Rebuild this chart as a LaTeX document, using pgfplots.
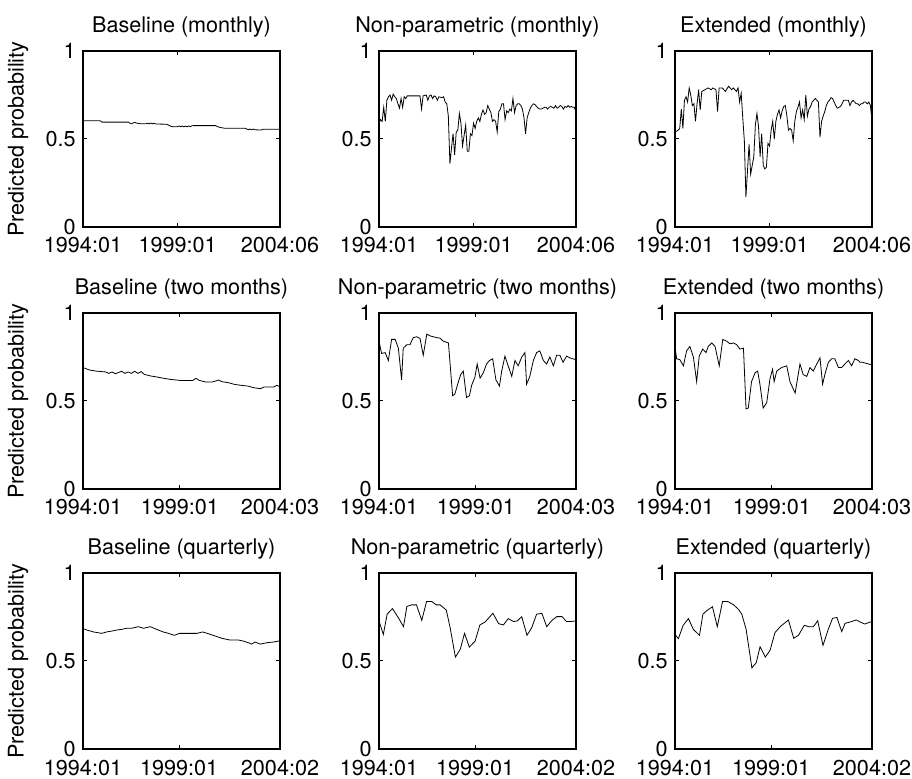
\documentclass[border=0pt]{standalone}
\usepackage{fontspec}
\setmainfont{TeX Gyre Heros}
\usepackage{pgfplots}
\pgfplotsset{compat=1.18}
\pgfplotsset{
  panel/.style={
    scale only axis, width=98.5pt, height=88pt,
    ymin=0, ymax=1, ytick={0,0.5,1}, yticklabels={0,0.5,1},
    xmin=0,
    tick align=inside, xtick pos=both, ytick pos=both,
    major tick length=2pt,
    axis line style={line width=0.6pt, black},
    every tick/.style={black, line width=0.5pt},
    tick label style={font=\fontsize{10.8}{12}\selectfont, inner sep=1pt},
    xticklabel style={anchor=base, yshift=-13pt},
    yticklabel style={anchor=east, xshift=-2.5pt},
    every axis title/.style={at={(0.5,1)}, anchor=base, yshift=9pt, font=\fontsize{10.8}{12}\selectfont},
    cycle list={{black, line width=0.6pt, mark=none}},
    ylabel style={at={(axis description cs:-0.33,0.5)}, anchor=center, inner sep=0pt, font=\fontsize{10.8}{12}\selectfont},
  },
  monthly/.style={xmax=125, xtick={0,60,125}, xticklabels={1994:01,1999:01,2004:06}},
  twomonth/.style={xmax=61, xtick={0,30,61}, xticklabels={1994:01,1999:01,2004:03}},
  quarterly/.style={xmax=41, xtick={0,20,41}, xticklabels={1994:01,1999:01,2004:02}},
}
\begin{document}
\begin{tikzpicture}
\useasboundingbox (0,0) rectangle (456pt,389pt);
% ---------- Row 1 ----------
\begin{axis}[panel, monthly, at={(41.5pt,275.5pt)}, anchor=south west,
  title={Baseline (monthly)}, ylabel={Predicted probability}]
\addplot coordinates {(0,0.604)(11,0.604)(12,0.596)(29,0.596)(30,0.587)(31,0.587)(32,0.592)(33,0.594)(34,0.590)(35,0.589)(36,0.587)(40,0.587)(41,0.590)(42,0.586)(43,0.591)(44,0.586)(45,0.590)(46,0.586)(47,0.585)(53,0.584)(54,0.580)(55,0.576)(56,0.571)(57,0.570)(60,0.570)(61,0.574)(62,0.570)(63,0.574)(64,0.569)(65,0.574)(66,0.569)(67,0.574)(68,0.570)(69,0.575)(70,0.576)(84,0.576)(85,0.572)(86,0.568)(88,0.564)(90,0.561)(103,0.561)(104,0.556)(105,0.553)(106,0.557)(107,0.552)(108,0.557)(109,0.552)(110,0.552)(113,0.551)(114,0.555)(125,0.555)};
\end{axis}
\begin{axis}[panel, monthly, at={(189.5pt,275.5pt)}, anchor=south west,
  title={Non-parametric (monthly)}]
\addplot coordinates {(0,0.59)(1,0.61)(2,0.60)(3,0.68)(4,0.60)(5,0.72)(6,0.74)(7,0.75)(8,0.72)(9,0.755)(10,0.74)(11,0.73)(12,0.70)(13,0.675)(14,0.73)(15,0.68)(16,0.74)(17,0.73)(18,0.745)(26,0.745)(27,0.67)(28,0.745)(30,0.75)(31,0.72)(32,0.745)(33,0.75)(34,0.73)(35,0.745)(36,0.74)(37,0.72)(38,0.74)(40,0.735)(41,0.74)(42,0.71)(43,0.70)(44,0.63)(45,0.36)(46,0.45)(47,0.53)(48,0.41)(49,0.54)(50,0.55)(51,0.645)(52,0.59)(53,0.46)(54,0.52)(55,0.58)(56,0.43)(57,0.43)(58,0.53)(59,0.52)(60,0.59)(61,0.56)(62,0.60)(63,0.62)(64,0.60)(65,0.64)(66,0.665)(67,0.64)(68,0.65)(69,0.69)(70,0.67)(71,0.65)(72,0.60)(73,0.61)(74,0.60)(75,0.54)(76,0.655)(77,0.67)(78,0.70)(79,0.70)(80,0.61)(81,0.66)(82,0.65)(83,0.67)(84,0.66)(85,0.73)(86,0.65)(87,0.69)(88,0.70)(89,0.70)(90,0.69)(91,0.67)(92,0.62)(93,0.53)(94,0.62)(95,0.65)(96,0.675)(97,0.69)(98,0.70)(99,0.695)(100,0.685)(101,0.675)(102,0.67)(103,0.67)(104,0.675)(105,0.68)(106,0.68)(107,0.67)(108,0.68)(109,0.685)(110,0.68)(111,0.675)(112,0.69)(113,0.675)(114,0.68)(115,0.69)(116,0.685)(117,0.67)(118,0.685)(119,0.68)(120,0.69)(121,0.68)(122,0.685)(123,0.68)(124,0.68)(125,0.65)};
\end{axis}
\begin{axis}[panel, monthly, at={(337.5pt,275.5pt)}, anchor=south west,
  title={Extended (monthly)}]
\addplot coordinates {(0,0.54)(1,0.545)(2,0.55)(3,0.56)(4,0.67)(5,0.56)(6,0.72)(7,0.74)(8,0.71)(9,0.79)(10,0.75)(11,0.69)(12,0.70)(13,0.60)(14,0.70)(15,0.78)(16,0.665)(17,0.77)(19,0.78)(21,0.79)(23,0.78)(24,0.79)(26,0.78)(27,0.655)(28,0.79)(30,0.79)(32,0.77)(34,0.80)(36,0.78)(37,0.79)(39,0.77)(40,0.79)(41,0.71)(42,0.76)(43,0.62)(44,0.49)(45,0.17)(46,0.32)(47,0.47)(48,0.30)(49,0.35)(50,0.40)(51,0.58)(52,0.645)(53,0.57)(54,0.40)(55,0.53)(56,0.35)(57,0.33)(58,0.34)(59,0.475)(60,0.46)(61,0.55)(62,0.60)(63,0.50)(64,0.60)(65,0.64)(66,0.665)(67,0.62)(68,0.66)(69,0.685)(70,0.69)(71,0.63)(72,0.55)(73,0.56)(74,0.55)(75,0.49)(76,0.60)(77,0.655)(78,0.68)(79,0.71)(80,0.62)(81,0.665)(82,0.61)(83,0.75)(84,0.63)(85,0.67)(86,0.684)(87,0.71)(88,0.72)(89,0.73)(90,0.72)(91,0.71)(92,0.51)(93,0.60)(94,0.63)(95,0.655)(96,0.69)(97,0.71)(98,0.72)(99,0.735)(100,0.73)(101,0.71)(102,0.69)(103,0.675)(104,0.68)(105,0.685)(106,0.70)(107,0.72)(108,0.72)(109,0.72)(110,0.72)(111,0.69)(112,0.71)(113,0.72)(114,0.71)(115,0.70)(116,0.70)(117,0.69)(118,0.70)(119,0.70)(120,0.71)(121,0.71)(122,0.70)(123,0.71)(124,0.69)(125,0.60)};
\end{axis}
% ---------- Row 2 ----------
\begin{axis}[panel, twomonth, at={(41.5pt,144.5pt)}, anchor=south west,
  title={Baseline (two months)}, ylabel={Predicted probability}]
\addplot coordinates {(0,0.690)(2,0.676)(4,0.670)(7,0.665)(8,0.657)(9,0.665)(10,0.655)(12,0.669)(13,0.657)(14,0.665)(15,0.657)(16,0.669)(17,0.657)(18,0.667)(19,0.651)(21,0.642)(23,0.636)(25,0.629)(27,0.623)(29,0.619)(30,0.617)(34,0.617)(35,0.629)(36,0.617)(38,0.608)(40,0.608)(42,0.619)(43,0.610)(45,0.604)(47,0.594)(49,0.589)(51,0.585)(53,0.575)(55,0.570)(56,0.579)(59,0.579)(60,0.589)(61,0.581)};
\end{axis}
\begin{axis}[panel, twomonth, at={(189.5pt,144.5pt)}, anchor=south west,
  title={Non-parametric (two months)}]
\addplot coordinates {(0,0.84)(0.8,0.77)(1.9,0.775)(2.9,0.73)(3.9,0.85)(5,0.85)(6,0.80)(7,0.62)(7.5,0.80)(8.6,0.82)(9.6,0.82)(10.6,0.86)(11.7,0.865)(12.7,0.855)(13.7,0.76)(14.8,0.88)(15.8,0.87)(16.8,0.865)(17.9,0.86)(18.9,0.857)(19.9,0.84)(21.5,0.83)(22.8,0.53)(23.5,0.54)(24.6,0.61)(25.3,0.65)(26.1,0.67)(27.1,0.52)(28,0.53)(28.7,0.59)(29.7,0.635)(30.4,0.71)(31.3,0.63)(32.3,0.66)(33.3,0.71)(34.2,0.73)(35.2,0.74)(36.2,0.62)(37.3,0.585)(38,0.67)(39,0.755)(40,0.70)(41.1,0.64)(42.1,0.73)(43.1,0.70)(44.2,0.75)(45.2,0.775)(45.7,0.595)(46.7,0.64)(47.8,0.73)(48.8,0.775)(49.8,0.785)(50.9,0.73)(51.9,0.71)(52.9,0.75)(54,0.70)(55,0.76)(56,0.76)(57,0.72)(58.1,0.755)(59.1,0.745)(60,0.74)(61,0.735)};
\end{axis}
\begin{axis}[panel, twomonth, at={(337.5pt,144.5pt)}, anchor=south west,
  title={Extended (two months)}]
\addplot coordinates {(0,0.81)(0.5,0.74)(1.5,0.735)(2.6,0.70)(3.6,0.785)(4.6,0.81)(5.7,0.75)(6.7,0.61)(7.5,0.755)(8.6,0.795)(9.6,0.775)(10.3,0.81)(11.4,0.83)(12.4,0.81)(13.7,0.70)(14.8,0.85)(16,0.84)(17,0.825)(18.1,0.83)(19.1,0.82)(20.1,0.795)(21.2,0.80)(22,0.455)(22.7,0.46)(23.7,0.61)(24.8,0.66)(25.6,0.67)(26.3,0.595)(27.3,0.46)(28.4,0.49)(29.4,0.625)(30.2,0.68)(30.7,0.61)(31.5,0.67)(33,0.69)(34.6,0.70)(35.6,0.61)(37.2,0.545)(38.7,0.71)(39.7,0.65)(40.8,0.64)(41.8,0.69)(42.8,0.67)(43.9,0.71)(44.9,0.745)(45.7,0.595)(46.4,0.65)(47.5,0.72)(48.5,0.74)(49.5,0.74)(50.6,0.69)(51.6,0.69)(52.6,0.71)(53.7,0.73)(54.7,0.70)(55.7,0.74)(56.8,0.73)(57.3,0.72)(58,0.72)(59,0.715)(60,0.71)(61,0.705)};
\end{axis}
% ---------- Row 3 ----------
\begin{axis}[panel, quarterly, at={(41.5pt,14.5pt)}, anchor=south west,
  title={Baseline (quarterly)}, ylabel={Predicted probability}]
\addplot coordinates {(0,0.684)(0.8,0.676)(2.2,0.665)(3.9,0.657)(4.9,0.665)(6,0.670)(7,0.676)(8.1,0.680)(9.1,0.686)(10.1,0.686)(11.5,0.695)(12.6,0.686)(14,0.695)(15.3,0.680)(16.7,0.665)(17.8,0.657)(19,0.646)(20.1,0.657)(21.6,0.657)(23.7,0.657)(24.9,0.665)(26.1,0.655)(27.5,0.642)(28.9,0.629)(30.6,0.619)(32.4,0.619)(33.4,0.613)(34.4,0.604)(35.1,0.596)(35.8,0.608)(36.9,0.596)(38.3,0.604)(39.7,0.608)(41,0.615)};
\end{axis}
\begin{axis}[panel, quarterly, at={(189.5pt,14.5pt)}, anchor=south west,
  title={Non-parametric (quarterly)}]
\addplot coordinates {(0,0.728)(0.9,0.651)(1.7,0.766)(2.8,0.798)(4,0.747)(5.1,0.695)(5.8,0.81)(6.8,0.819)(7.8,0.819)(8.9,0.731)(9.9,0.838)(11,0.838)(11.9,0.819)(12.7,0.819)(14,0.790)(14.8,0.690)(15.9,0.522)(16.9,0.566)(17.8,0.657)(18.8,0.579)(20,0.613)(21,0.705)(22.1,0.722)(23.7,0.771)(24.9,0.712)(25.9,0.705)(26.9,0.741)(28,0.724)(28.8,0.728)(29.7,0.752)(30.8,0.646)(31.8,0.690)(32.8,0.766)(33.9,0.771)(34.9,0.695)(36,0.731)(37,0.752)(38.1,0.752)(39,0.724)(39.8,0.724)(41,0.728)};
\end{axis}
\begin{axis}[panel, quarterly, at={(337.5pt,14.5pt)}, anchor=south west,
  title={Extended (quarterly)}]
\addplot coordinates {(0,0.651)(0.7,0.627)(1.7,0.703)(2.8,0.741)(3.8,0.68)(5.1,0.646)(5.8,0.766)(6.8,0.79)(7.8,0.808)(8.8,0.695)(9.9,0.838)(11,0.838)(12.2,0.819)(13.2,0.794)(13.9,0.766)(14.8,0.68)(16,0.461)(16.9,0.49)(17.7,0.581)(18.8,0.522)(19.8,0.562)(20.8,0.661)(21.9,0.695)(23.6,0.733)(24.7,0.629)(25.7,0.646)(26.9,0.703)(27.8,0.695)(28.8,0.695)(29.7,0.728)(30.8,0.589)(31.9,0.680)(32.8,0.743)(33.7,0.747)(34.7,0.667)(35.4,0.714)(36.5,0.722)(37.7,0.733)(38.5,0.722)(39.5,0.71)(41,0.725)};
\end{axis}
\end{tikzpicture}
\end{document}
